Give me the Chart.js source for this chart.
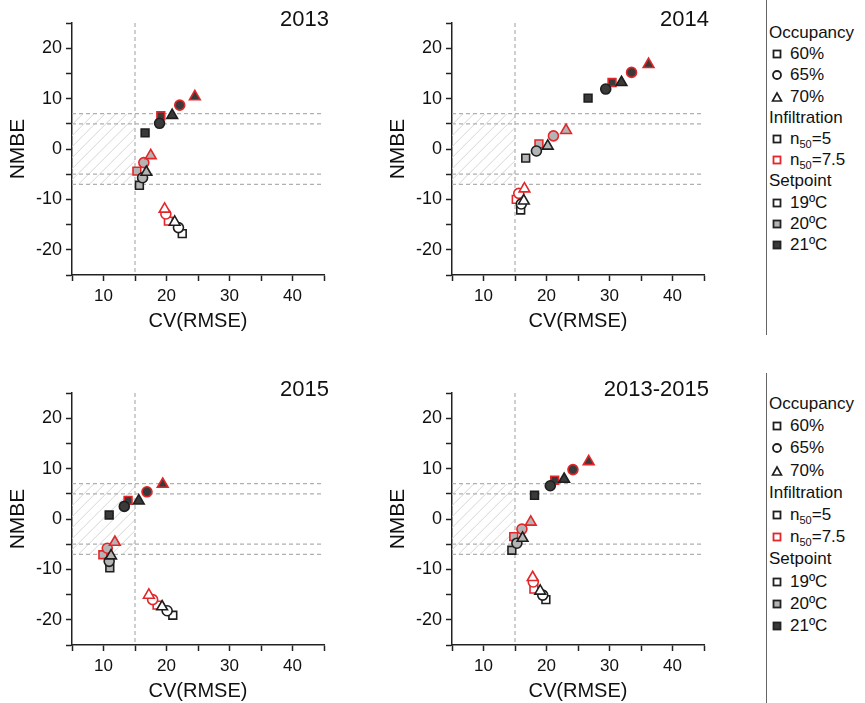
<!DOCTYPE html>
<html>
<head>
<meta charset="utf-8">
<script src="https://cdn.jsdelivr.net/npm/chart.js@4.4.1/dist/chart.umd.min.js"></script>
<style>
  body { margin:0; background:#fff; width:865px; height:703px; position:relative; overflow:hidden;
         font-family:'Liberation Sans', Arial, sans-serif; }
  canvas { position:absolute; }
  .vline { position:absolute; left:766px; width:1px; background:#666; }
  .leg { position:absolute; font-size:17px; color:#111; line-height:20px; white-space:nowrap; }
  .leg sub { font-size:11px; vertical-align:-4px; line-height:0; }
  .leg svg { position:absolute; }
</style>
</head>
<body>
<canvas id="c2013" width="345" height="350" style="left:0;top:0"></canvas>
<canvas id="c2014" width="345" height="350" style="left:380px;top:0"></canvas>
<canvas id="c2015" width="345" height="350" style="left:0;top:370px"></canvas>
<canvas id="c1315" width="345" height="350" style="left:380px;top:370px"></canvas>
<div class="vline" style="top:0;height:335px"></div>
<div class="vline" style="top:373px;height:330px"></div>
<div id="legends"></div>

<script>
// legend categories
const occupancy = ['60%', '65%', '70%'];
const infiltration = ['n<sub>50</sub>=5', 'n<sub>50</sub>=7.5'];
const setpoints = ['19ºC', '20ºC', '21ºC'];

// groups: [19ºC n50=5, 19ºC n50=7.5, 20ºC n50=5, 20ºC n50=7.5, 21ºC n50=5, 21ºC n50=7.5]
// each group: [60%, 65%, 70%]
const cv2013   = [[22.5,21.9,21.3],[20.3,19.9,19.7],[15.7,16.2,16.8],[15.3,16.4,17.5],[16.6,18.9,20.9],[19.1,22.1,24.5]];
const nmbe2013 = [[-16.8,-15.6,-14.5],[-14.3,-12.9,-11.9],[-7.2,-5.7,-4.6],[-4.4,-2.7,-1.3],[3.2,5.1,6.7],[6.6,8.7,10.4]];

const cv2014   = [[15.9,16.0,16.4],[15.2,15.6,16.5],[16.7,18.4,20.2],[18.8,21.1,23.1],[26.6,29.4,31.9],[30.4,33.5,36.2]];
const nmbe2014 = [[-12.1,-10.9,-10.3],[-10.0,-8.8,-7.9],[-1.8,-0.4,0.6],[1.0,2.6,3.7],[10.1,11.9,13.2],[13.2,15.2,16.8]];

const cv2015   = [[21.0,20.1,19.3],[18.5,17.8,17.2],[11.0,10.9,11.2],[9.9,10.6,11.8],[10.9,13.3,15.6],[13.9,16.9,19.4]];
const nmbe2015 = [[-19.1,-18.2,-17.4],[-17.1,-16.0,-15.1],[-9.7,-8.4,-7.3],[-7.1,-5.8,-4.6],[0.8,2.5,3.6],[3.7,5.4,6.9]];

const cvAll    = [[19.9,19.4,19.0],[18.0,17.9,17.8],[14.5,15.3,16.2],[14.8,16.1,17.5],[18.1,20.6,22.8],[21.3,24.2,26.7]];
const nmbeAll  = [[-16.0,-15.1,-14.3],[-13.9,-12.5,-11.6],[-6.2,-4.8,-3.8],[-3.5,-2.0,-0.6],[4.7,6.6,7.9],[7.7,9.8,11.4]];

// reference lines / acceptance zone
const refX = [15];
const refY = [7, 5, -5, -7];
const zoneX = [5, 15];
const zoneY = [-7, 7];

const fills = ['#ffffff', '#b4b4b4', '#3a3a3a'];
const edges = ['#1e1e1e', '#e3262a'];
const shapes = ['rect', 'circle', 'triangle'];
const sizes = [5.5, 5, 6.2];

Chart.defaults.font.family = "'Liberation Sans', Arial, sans-serif";
Chart.defaults.color = '#111';

const refPlugin = {
  id: 'refs',
  beforeDatasetsDraw(chart) {
    const { ctx, chartArea: a, scales: { x, y } } = chart;
    const x0 = x.getPixelForValue(zoneX[0]), x1 = x.getPixelForValue(zoneX[1]);
    const y0 = y.getPixelForValue(zoneY[1]), y1 = y.getPixelForValue(zoneY[0]);
    const h = y1 - y0;
    ctx.save();
    ctx.beginPath();
    ctx.rect(x0, y0, x1 - x0, h);
    ctx.clip();
    ctx.strokeStyle = '#d6d6d6';
    ctx.lineWidth = 1;
    ctx.beginPath();
    for (let s = x0 - h; s < x1; s += 11) {
      ctx.moveTo(s, y1);
      ctx.lineTo(s + h, y0);
    }
    ctx.stroke();
    ctx.restore();

    ctx.save();
    ctx.strokeStyle = '#b0b0b0';
    ctx.lineWidth = 1.2;
    ctx.setLineDash([4, 3]);
    refX.forEach(v => {
      const p = x.getPixelForValue(v);
      ctx.beginPath(); ctx.moveTo(p, a.top); ctx.lineTo(p, a.bottom); ctx.stroke();
    });
    refY.forEach(v => {
      const p = y.getPixelForValue(v);
      ctx.beginPath(); ctx.moveTo(a.left, p); ctx.lineTo(a.right, p); ctx.stroke();
    });
    ctx.restore();
  },
  afterDraw(chart, args, opts) {
    const { ctx, chartArea: a } = chart;
    ctx.save();
    ctx.font = "22px 'Liberation Sans', Arial, sans-serif";
    ctx.fillStyle = '#111';
    ctx.textAlign = 'right';
    ctx.textBaseline = 'alphabetic';
    ctx.fillText(opts.text, a.right + 5, 26);
    ctx.restore();
  }
};

function makePanel(id, title, cv, nmbe) {
  const datasets = cv.map((xs, g) => {
    const sp = Math.floor(g / 2), inf = g % 2;
    return {
      label: setpoints[sp] + ' / ' + infiltration[inf],
      data: xs.map((v, i) => ({ x: v, y: nmbe[g][i] })),
      pointStyle: shapes,
      pointRadius: sizes,
      pointBackgroundColor: fills[sp],
      pointBorderColor: edges[inf],
      pointBorderWidth: 1.6
    };
  });
  new Chart(document.getElementById(id), {
    type: 'scatter',
    data: { datasets },
    plugins: [refPlugin],
    options: {
      responsive: false,
      animation: false,
      devicePixelRatio: 1,
      layout: { padding: { top: 23, right: 21, left: 0, bottom: 0 } },
      plugins: {
        legend: { display: false },
        tooltip: { enabled: false },
        refs: { text: title }
      },
      scales: {
        x: {
          type: 'linear', min: 5, max: 45,
          afterFit(s) { s.height = 75; },
          border: { color: '#222', width: 1.5 },
          grid: { drawOnChartArea: false, drawTicks: true, tickLength: 6, color: '#222', tickWidth: 1.5 },
          ticks: { stepSize: 5, autoSkip: false, maxRotation: 0, padding: 5, font: { size: 17 },
                   callback: v => (v % 10 === 0 ? String(v) : '') },
          title: { display: true, text: 'CV(RMSE)', font: { size: 20 }, padding: { top: 0, bottom: 17 } }
        },
        y: {
          type: 'linear', min: -25, max: 25,
          afterFit(s) { s.width = 72; },
          border: { color: '#222', width: 1.5 },
          grid: { drawOnChartArea: false, drawTicks: true, tickLength: 6, color: '#222', tickWidth: 1.5 },
          ticks: { stepSize: 5, autoSkip: false, padding: 4, font: { size: 18 },
                   callback: v => (v % 10 === 0 ? String(v) : '') },
          title: { display: true, text: 'NMBE', font: { size: 21 }, padding: { top: 6, bottom: 0 } }
        }
      }
    }
  });
}

makePanel('c2013', '2013', cv2013, nmbe2013);
makePanel('c2014', '2014', cv2014, nmbe2014);
makePanel('c2015', '2015', cv2015, nmbe2015);
makePanel('c1315', '2013-2015', cvAll, nmbeAll);

// legend (HTML text, SVG markers)
function marker(shape, fill, stroke) {
  let s;
  if (shape === 'rect') s = `<rect x="2.5" y="2.5" width="7" height="7" fill="${fill}" stroke="${stroke}" stroke-width="1.8"/>`;
  else if (shape === 'circle') s = `<circle cx="6" cy="6" r="4" fill="${fill}" stroke="${stroke}" stroke-width="1.8"/>`;
  else s = `<polygon points="6,2 10.5,10 1.5,10" fill="${fill}" stroke="${stroke}" stroke-width="1.6"/>`;
  return `<svg width="12" height="12" style="left:-19px;top:4px">${s}</svg>`;
}
function buildLegend(top, step) {
  const rows = [];
  rows.push({ head: 'Occupancy' });
  occupancy.forEach((t, i) => rows.push({ text: t, m: marker(shapes[i], '#fff', edges[0]) }));
  rows.push({ head: 'Infiltration' });
  infiltration.forEach((t, i) => rows.push({ text: t, m: marker('rect', '#fff', edges[i]) }));
  rows.push({ head: 'Setpoint' });
  setpoints.forEach((t, i) => rows.push({ text: t, m: marker('rect', fills[i], '#222') }));
  let html = '';
  rows.forEach((r, k) => {
    const yc = top + k * step - 10;
    if (r.head) html += `<div class="leg" style="left:769px;top:${yc}px">${r.head}</div>`;
    else html += `<div class="leg" style="left:790px;top:${yc}px">${r.m}${r.text}</div>`;
  });
  return html;
}
document.getElementById('legends').innerHTML = buildLegend(33, 21.2) + buildLegend(404, 22.2);
</script>
</body>
</html>
